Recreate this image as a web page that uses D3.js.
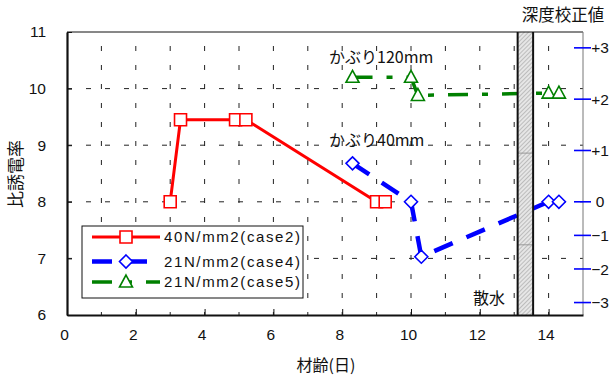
<!DOCTYPE html>
<html>
<head>
<meta charset="utf-8">
<script src="https://cdn.jsdelivr.net/npm/d3@7"></script>
<style>
  html, body { margin: 0; padding: 0; background: #fff; }
  svg text { fill: #111; }
</style>
</head>
<body>
<svg id="chart" width="611" height="376"></svg>
<script>
// ---- data ----
const case2Age = [3.0, 3.3, 4.9, 5.2, 9.0, 9.25];
const case2Val = [8.0, 9.45, 9.45, 9.45, 8.0, 8.0];
const case4Age = [8.3, 10.0, 10.3, 14.0, 14.3];
const case4Val = [8.68, 8.0, 7.03, 8.0, 8.0];
const case5Age = [8.3, 10.0, 10.2, 14.0, 14.3];
const case5Val = [10.2, 10.2, 9.88, 9.92, 9.92];
const seriesNames = ["40N/mm2(case2)", "21N/mm2(case4)", "21N/mm2(case5)"];
const xTicks = [0, 2, 4, 6, 8, 10, 12, 14];
const yTicks = [6, 7, 8, 9, 10, 11];
const corrTicks = [-3, -2, -1, 0, 1, 2, 3];
const corrLabels = ["\u22123", "\u22122", "\u22121", "0", "+1", "+2", "+3"];
const corrAnchors = [6.22, 8.0, 10.72];   // dielectric values at corr -3, 0, +3
const sprinkleSpan = [13.1, 13.55];       // watering period (days)
const sprinkleSplits = [8.86, 7.24];

// ---- layout ----
const svg = d3.select("#chart");
const plotL = 67, plotR = 583, plotT = 32, plotB = 315;
const x = d3.scaleLinear().domain([0, 15]).range([plotL, plotR]);
const y = d3.scaleLinear().domain([6, 11]).range([plotB, plotT]);
const corr = d3.scaleLinear().domain([-3, 0, 3]).range(corrAnchors);

const numFont = "'Liberation Sans', Arial, sans-serif";
const jpFont = "'Noto Sans CJK JP', sans-serif";

// defs: hatch pattern for the watering bar
const defs = svg.append("defs");
const pat = defs.append("pattern").attr("id", "hatch")
  .attr("patternUnits", "userSpaceOnUse").attr("width", 3).attr("height", 3)
  .attr("patternTransform", "rotate(45)");
pat.append("rect").attr("width", 3).attr("height", 3).attr("fill", "#e6e6e6");
pat.append("line").attr("x1", 0).attr("y1", 0).attr("x2", 0).attr("y2", 3)
  .attr("stroke", "#8a8a8a").attr("stroke-width", 0.9);

// grid
const gridG = svg.append("g");
gridG.selectAll("line.v").data(d3.range(1, 15)).join("line")
  .attr("x1", d => x(d)).attr("x2", d => x(d))
  .attr("y1", plotT).attr("y2", plotB)
  .attr("stroke", "#222").attr("stroke-width", 1)
  .attr("stroke-dasharray", "5,14").attr("stroke-dashoffset", -14);
gridG.selectAll("line.h").data([7, 8, 9, 10]).join("line")
  .attr("x1", plotL).attr("x2", plotR)
  .attr("y1", d => y(d)).attr("y2", d => y(d))
  .attr("stroke", "#222").attr("stroke-width", 1)
  .attr("stroke-dasharray", "5,14");

// series
const series = [
  { ages: case2Age, vals: case2Val, color: "#ff0000", width: 3, dash: null, marker: "square" },
  { ages: case4Age, vals: case4Val, color: "#0000ff", width: 4.5, dash: "20,15", marker: "diamond" },
  { ages: case5Age, vals: case5Val, color: "#008000", width: 3.5, dash: "20,14,6,14", marker: "triangle" }
];

const line = d3.line().x(d => x(d[0])).y(d => y(d[1]));

function markerPath(type) {
  if (type === "square") return d3.symbol(d3.symbolSquare, 144)();
  if (type === "diamond") {
    const r = 6.5;
    return `M0,${-r}L${r},0L0,${r}L${-r},0Z`;
  }
  const h = 12, w = 13;
  return `M0,${-h * 0.58}L${w / 2},${h * 0.42}L${-w / 2},${h * 0.42}Z`;
}

const linesG = svg.append("g");
series.forEach(s => {
  const pts = s.ages.map((a, i) => [a, s.vals[i]]);
  linesG.append("path").datum(pts)
    .attr("d", line).attr("fill", "none")
    .attr("stroke", s.color).attr("stroke-width", s.width)
    .attr("stroke-dasharray", s.dash);
});

// watering bar (over the lines)
const barG = svg.append("g");
barG.append("rect")
  .attr("x", x(sprinkleSpan[0])).attr("y", plotT)
  .attr("width", x(sprinkleSpan[1]) - x(sprinkleSpan[0]))
  .attr("height", plotB - plotT)
  .attr("fill", "url(#hatch)").attr("stroke", "none");
barG.selectAll("line.split").data(sprinkleSplits).join("line")
  .attr("x1", x(sprinkleSpan[0])).attr("x2", x(sprinkleSpan[1]))
  .attr("y1", d => y(d)).attr("y2", d => y(d))
  .attr("stroke", "#999").attr("stroke-width", 1);
barG.selectAll("line.edge").data(sprinkleSpan).join("line")
  .attr("x1", d => x(d)).attr("x2", d => x(d))
  .attr("y1", plotT).attr("y2", plotB)
  .attr("stroke", "#111").attr("stroke-width", 2);

// markers
const markG = svg.append("g");
series.forEach(s => {
  markG.selectAll(null).data(s.ages.map((a, i) => [a, s.vals[i]])).join("path")
    .attr("transform", d => `translate(${x(d[0])},${y(d[1])})`)
    .attr("d", markerPath(s.marker))
    .attr("fill", "#fff").attr("stroke", s.color).attr("stroke-width", 1.6);
});

// frame
svg.append("line").attr("x1", plotL).attr("x2", plotR).attr("y1", plotT).attr("y2", plotT)
  .attr("stroke", "#111").attr("stroke-width", 1);
svg.append("line").attr("x1", plotR).attr("x2", plotR).attr("y1", plotT).attr("y2", plotB)
  .attr("stroke", "#777").attr("stroke-width", 1);

// axes
const xAxis = svg.append("g").attr("transform", `translate(0,${plotB})`)
  .call(d3.axisBottom(x).tickValues(xTicks).tickFormat(d3.format("d"))
    .tickSize(-6).tickSizeOuter(0).tickPadding(14));
const yAxis = svg.append("g").attr("transform", `translate(${plotL},0)`)
  .call(d3.axisLeft(y).tickValues(yTicks).tickFormat(d3.format("d"))
    .tickSize(-5).tickSizeOuter(0).tickPadding(21));
[xAxis, yAxis].forEach(g => {
  g.select(".domain").attr("stroke", "#111").attr("stroke-width", 2.2);
  g.selectAll(".tick line").attr("stroke", "#111").attr("stroke-width", 1);
  g.selectAll(".tick text").attr("font-family", numFont).attr("font-size", 15.5).attr("fill", "#111");
});
xAxis.selectAll(".tick text").attr("dx", -3);

// correction axis (right)
const corrG = svg.append("g");
corrG.selectAll("line").data(corrTicks).join("line")
  .attr("x1", 574).attr("x2", 591)
  .attr("y1", d => y(corr(d))).attr("y2", d => y(corr(d)))
  .attr("stroke", "#0000ff").attr("stroke-width", 1.6);
corrG.selectAll("text").data(corrTicks).join("text")
  .attr("x", 600).attr("y", d => y(corr(d)))
  .attr("dy", "0.36em").attr("text-anchor", "middle")
  .attr("font-family", numFont).attr("font-size", 15.5)
  .text((d, i) => corrLabels[i]);

svg.append("text").attr("x", 563).attr("y", 21).attr("text-anchor", "middle")
  .attr("font-family", jpFont).attr("font-size", 16.5).text("深度校正値");

// axis titles
svg.append("text").attr("x", 326).attr("y", 371).attr("text-anchor", "middle")
  .attr("font-family", jpFont).attr("font-size", 16).text("材齢(日)");
svg.append("text").attr("transform", "translate(22,174) rotate(-90)")
  .attr("text-anchor", "middle")
  .attr("font-family", jpFont).attr("font-size", 17).text("比誘電率");

// annotations
svg.append("text").attr("x", 329).attr("y", 63)
  .attr("font-family", jpFont).attr("font-size", 16).text("かぶり120mm");
svg.append("text").attr("x", 329).attr("y", 146)
  .attr("font-family", jpFont).attr("font-size", 16).text("かぶり40mm");
svg.append("text").attr("x", 473).attr("y", 304)
  .attr("font-family", jpFont).attr("font-size", 16).text("散水");

// legend
const lg = svg.append("g");
lg.append("rect").attr("x", 82).attr("y", 226).attr("width", 221).attr("height", 72)
  .attr("fill", "#fff").attr("stroke", "#111").attr("stroke-width", 1);
const legendY = [237, 261.5, 282];
series.forEach((s, i) => {
  lg.append("line").attr("x1", 92).attr("x2", 160)
    .attr("y1", legendY[i]).attr("y2", legendY[i])
    .attr("stroke", s.color).attr("stroke-width", s.width)
    .attr("stroke-dasharray", s.dash);
  lg.append("path").attr("transform", `translate(126,${legendY[i]})`)
    .attr("d", markerPath(s.marker))
    .attr("fill", "#fff").attr("stroke", s.color).attr("stroke-width", 1.6);
  lg.append("text").attr("x", 164).attr("y", legendY[i]).attr("dy", "0.36em")
    .attr("font-family", numFont).attr("font-size", 15)
    .attr("textLength", 136).attr("lengthAdjust", "spacing")
    .text(seriesNames[i]);
});
</script>
</body>
</html>
